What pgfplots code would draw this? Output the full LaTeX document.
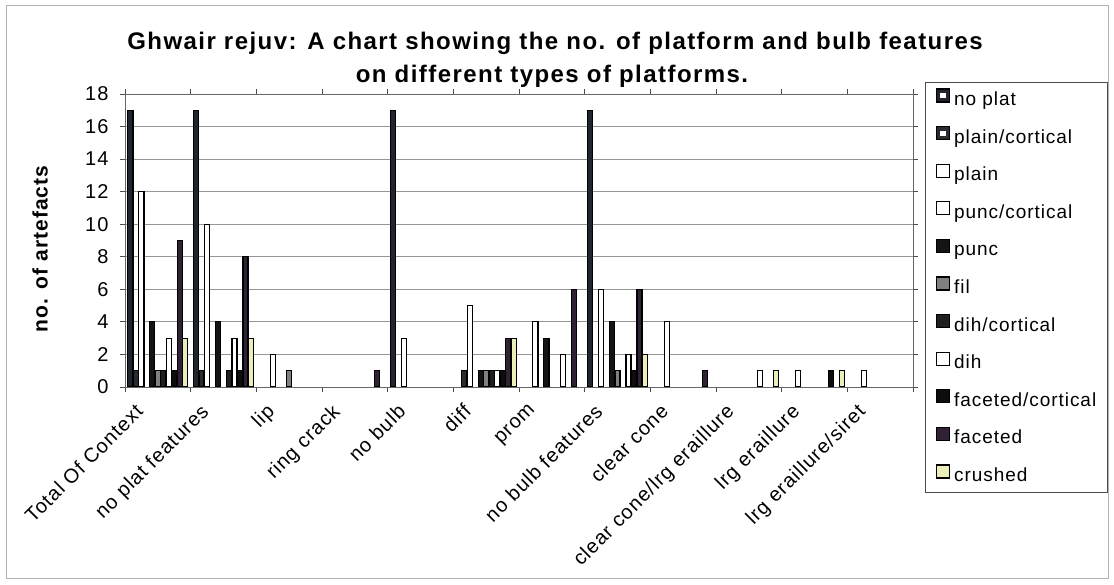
\documentclass[border=0pt]{standalone}
\usepackage{fontspec}
\setmainfont{Liberation Sans}[LetterSpace=5]
\usepackage{pgfplots}
\pgfplotsset{compat=1.18}
\definecolor{gridc}{RGB}{150,150,150}
\definecolor{noplat}{RGB}{32,37,46}
\definecolor{plaincort}{RGB}{42,42,50}
\definecolor{faceted}{RGB}{48,34,52}
\definecolor{crushed}{RGB}{236,238,186}
\pgfplotsset{
  mybar/.style={ybar, bar width=0.078, draw=black, line width=1.2bp},
  dotlegend/.style={legend image code/.code={\draw[##1] (0bp,-1.5bp) rectangle (13bp,11.5bp); \fill[white] (4.5bp,3bp) rectangle (8.5bp,7bp);}},
}
\begin{document}
\begin{tikzpicture}[x=1bp,y=1bp]
\useasboundingbox (0,0) rectangle (1114,585);
\fill[white] (0,0) rectangle (1114,585);
\draw[black!30, line width=1bp] (6,6) rectangle (1108,579);
\node[font=\fontsize{24bp}{28bp}\selectfont\bfseries\addfontfeatures{LetterSpace=6}, anchor=base, inner sep=0pt] at (555,535) {Ghwair rejuv: A chart showing the no. of platform and bulb features};
\node[font=\fontsize{24bp}{28bp}\selectfont\bfseries\addfontfeatures{LetterSpace=6}, anchor=base, inner sep=0pt] at (552,502) {on different types of platforms.};
\node[font=\fontsize{21bp}{24bp}\selectfont\bfseries, rotate=90, inner sep=0pt] at (40,336) {no. of artefacts};
\begin{axis}[
  at={(125bp,198bp)}, anchor=south west,
  scale only axis, width=788bp, height=293bp,
  xmin=-0.5, xmax=11.5, ymin=0, ymax=18,
  xtick={0,...,11},
  xticklabels={Total Of Context, no plat features, lip, ring crack, no bulb, diff, prom, no bulb features, clear cone, clear cone/lrg eraillure, lrg eraillure, lrg eraillure/siret},
  minor xtick={-0.5,0.5,...,11.5},
  ytick={0,2,...,18},
  ymajorgrids, major grid style={gridc, line width=0.9bp},
  tick align=outside, major tick length=5bp, minor tick length=5bp,
  major x tick style={draw=none},
  minor x tick style={black!70, line width=0.8bp},
  major y tick style={black!70, line width=0.8bp},
  axis line style={black!60, line width=0.9bp},
  /pgf/number format/assume math mode=true,
  yticklabel style={font=\fontsize{20bp}{24bp}\selectfont, xshift=-8bp},
  xticklabel style={xshift=-24bp, yshift=-9bp, font=\fontsize{20bp}{23bp}\selectfont, rotate=45, anchor=north east, inner sep=1bp},
  legend image code/.code={\draw[#1] (0bp,-1.5bp) rectangle (13bp,11.5bp);},
  legend cell align=left,
  legend style={at={(1.0152,1.0410)}, anchor=north west, draw=black!70, line width=0.9bp,
    font=\fontsize{19bp}{22bp}\selectfont, inner xsep=11bp, inner ysep=6.5bp,
    row sep=16.5bp, column sep=4bp, outer sep=0pt,
    nodes={inner sep=0pt, text height=14bp, text depth=4bp}},
]
\addplot[mybar, bar shift=-0.4185, fill=noplat, dotlegend]
  coordinates {(0,17) (1,17) (4,17) (7,17)};
\addlegendentry{no plat}
\addplot[mybar, bar shift=-0.3348, fill=plaincort, dotlegend]
  coordinates {(0,1) (1,1) (5,1)};
\addlegendentry{plain/cortical}
\addplot[mybar, bar shift=-0.2511, fill=white]
  coordinates {(0,12) (1,10) (2,2) (4,3) (5,5) (6,4) (7,6) (8,4) (10,1) (11,1)};
\addlegendentry{plain}
\addlegendimage{mybar, fill=white}
\addlegendentry{punc/cortical}
\addplot[mybar, bar shift=-0.0837, fill=black!92]
  coordinates {(0,4) (1,4) (5,1) (6,3) (7,4)};
\addlegendentry{punc}
\addplot[mybar, bar shift=0, fill=black!50]
  coordinates {(0,1) (2,1) (5,1) (7,1)};
\addlegendentry{fil}
\addplot[mybar, bar shift=0.0837, fill=black!88]
  coordinates {(0,1) (1,1) (5,1)};
\addlegendentry{dih/cortical}
\addplot[mybar, bar shift=0.1674, fill=white]
  coordinates {(0,3) (1,3) (5,1) (6,2) (7,2) (9,1)};
\addlegendentry{dih}
\addplot[mybar, bar shift=0.2511, fill=black!95]
  coordinates {(0,1) (1,1) (5,1) (7,1) (10,1)};
\addlegendentry{faceted/cortical}
\addplot[mybar, bar shift=0.3348, fill=faceted]
  coordinates {(0,9) (1,8) (3,1) (5,3) (6,6) (7,6) (8,1)};
\addlegendentry{faceted}
\addplot[mybar, bar shift=0.4185, fill=crushed]
  coordinates {(0,3) (1,3) (5,3) (7,2) (9,1) (10,1)};
\addlegendentry{crushed}
\end{axis}
\end{tikzpicture}
\end{document}
